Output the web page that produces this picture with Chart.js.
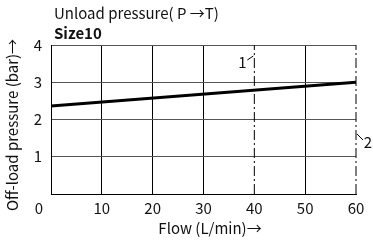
<!DOCTYPE html>
<html>
<head>
<meta charset="utf-8">
<script src="https://cdn.jsdelivr.net/npm/chart.js@4/dist/chart.umd.min.js"></script>
<style>
  html, body { margin: 0; padding: 0; background: #fff; }
  #wrap { width: 373px; height: 245px; position: relative; }
</style>
</head>
<body>
<div id="wrap"><canvas id="unloadChart"></canvas></div>
<script>
// chart data
const flow = [0, 60];
const pressure = [2.36, 3.0];
const xTickValues = [0, 10, 20, 30, 40, 50, 60];
const yTickValues = [0, 1, 2, 3, 4];
const markerFlows = [40, 60];
const markerLabels = ['1', '2'];

const FONT = '"Noto Sans CJK JP", "Noto Sans", sans-serif';

// vertical dash-dot lines at the marker flows
const markerSets = markerFlows.map((f) => ({
    data: [{ x: f, y: yTickValues[0] }, { x: f, y: yTickValues[yTickValues.length - 1] }],
    borderColor: '#000',
    borderWidth: 1,
    borderDash: [10, 3, 2, 3],
    pointRadius: 0,
    clip: false,
}));

// texts drawn on top: titles, axis titles, origin label, callouts
const textPlugin = {
    id: 'texts',
    afterDraw(chart) {
        const ctx = chart.ctx;
        const xs = chart.scales.x;
        ctx.save();
        ctx.fillStyle = '#111';
        ctx.textBaseline = 'middle';
        ctx.font = '15px ' + FONT;
        ctx.textAlign = 'left';
        ctx.fillText('Unload pressure( P →T)', 54, 13);
        ctx.font = 'bold 15px ' + FONT;
        ctx.fillText('Size10', 54, 33);

        ctx.font = '15px ' + FONT;
        ctx.textAlign = 'center';
        ctx.fillText('Flow (L/min)→', 210, 228);
        ctx.fillText('0', 39, 208);

        ctx.save();
        ctx.translate(12, 125);
        ctx.rotate(-Math.PI / 2);
        ctx.fillText('Off-load pressure (bar)→', 0, 0);
        ctx.restore();

        // callout 1
        const x1 = xs.getPixelForValue(markerFlows[0]);
        ctx.strokeStyle = '#000';
        ctx.lineWidth = 1;
        ctx.beginPath();
        ctx.moveTo(x1 - 7, 60);
        ctx.lineTo(x1 - 1, 56);
        ctx.stroke();
        ctx.fillText(markerLabels[0], x1 - 12, 62);

        // callout 2
        const x2 = xs.getPixelForValue(markerFlows[1]);
        ctx.beginPath();
        ctx.moveTo(x2 + 1, 134);
        ctx.lineTo(x2 + 7, 140);
        ctx.stroke();
        ctx.fillText(markerLabels[1], x2 + 12, 142);
        ctx.restore();
    }
};

const ctx = document.getElementById('unloadChart').getContext('2d');
new Chart(ctx, {
    type: 'line',
    data: {
        datasets: [
            {
                data: flow.map((f, i) => ({ x: f, y: pressure[i] })),
                borderColor: '#000',
                borderWidth: 3,
                pointRadius: 0,
            },
            ...markerSets,
        ],
    },
    options: {
        responsive: true,
        maintainAspectRatio: false,
        animation: false,
        layout: { padding: { top: 45, right: 17, left: 0, bottom: 0 } },
        plugins: { legend: { display: false }, tooltip: { enabled: false } },
        scales: {
            x: {
                type: 'linear',
                min: xTickValues[0],
                max: xTickValues[xTickValues.length - 1],
                afterFit: (s) => { s.height = 51; },
                afterBuildTicks: (s) => { s.ticks = xTickValues.map((v) => ({ value: v })); },
                ticks: {
                    padding: 5,
                    color: '#111',
                    font: { family: FONT, size: 15 },
                    callback: (v) => (v === 0 ? '' : v),
                },
                grid: {
                    drawTicks: false,
                    color: (c) => (markerFlows.includes(c.tick.value) ? 'rgba(0,0,0,0)' : '#000'),
                },
                border: { display: true, color: '#000', width: 1 },
            },
            y: {
                type: 'linear',
                min: yTickValues[0],
                max: yTickValues[yTickValues.length - 1],
                afterFit: (s) => { s.width = 51; },
                afterBuildTicks: (s) => { s.ticks = yTickValues.map((v) => ({ value: v })); },
                ticks: {
                    padding: 9,
                    color: '#111',
                    font: { family: FONT, size: 15 },
                    callback: (v) => (v === 0 ? '' : v),
                },
                grid: { drawTicks: false, color: '#555' },
                border: { display: true, color: '#000', width: 1 },
            },
        },
    },
    plugins: [textPlugin],
});
</script>
</body>
</html>
